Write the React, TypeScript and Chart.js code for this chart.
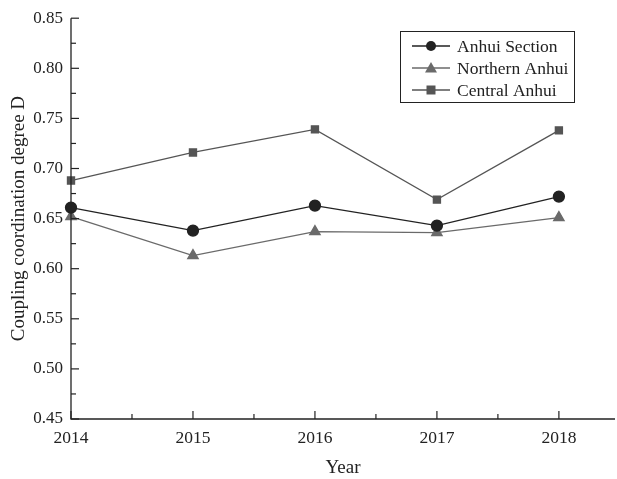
import React, { useEffect, useRef } from "react";
import { Chart, registerables } from "chart.js";

Chart.register(...registerables);

const years = [2014, 2015, 2016, 2017, 2018];
const anhuiSection = [0.661, 0.638, 0.663, 0.643, 0.672];
const northernAnhui = [0.652, 0.613, 0.637, 0.636, 0.651];
const centralAnhui = [0.688, 0.716, 0.739, 0.669, 0.738];
const seriesNames = ["Anhui Section", "Northern Anhui", "Central Anhui"];
const xTickValues = [2014, 2014.5, 2015, 2015.5, 2016, 2016.5, 2017, 2017.5, 2018];
const xTitle = "Year";
const yTitle = "Coupling coordination degree D";

const FONT = "'Liberation Serif', 'Times New Roman', serif";

const inwardTicks = {
  id: "inwardTicks",
  afterDraw(chart: any) {
    const ctx = chart.ctx;
    const { left, right, top, bottom } = chart.chartArea;
    ctx.save();
    ctx.strokeStyle = "#222";
    ctx.lineWidth = 1.3;
    ctx.beginPath();
    ctx.moveTo(left, top);
    ctx.lineTo(left, bottom);
    ctx.lineTo(right, bottom);
    ctx.stroke();
    ctx.lineWidth = 1.2;
    const xs = chart.scales.x;
    xs.ticks.forEach((t: any) => {
      const px = xs.getPixelForValue(t.value);
      const major = Math.abs(t.value - Math.round(t.value)) < 1e-6;
      const len = major ? 8 : 5;
      ctx.beginPath();
      ctx.moveTo(px, bottom);
      ctx.lineTo(px, bottom - len);
      ctx.stroke();
    });
    const ys = chart.scales.y;
    ys.ticks.forEach((t: any) => {
      const py = ys.getPixelForValue(t.value);
      const r = Math.round(t.value / 0.05) * 0.05;
      const major = Math.abs(t.value - r) < 1e-6;
      const len = major ? 8 : 5;
      ctx.beginPath();
      ctx.moveTo(left, py);
      ctx.lineTo(left + len, py);
      ctx.stroke();
    });
    ctx.restore();
  },
};

const boxLegend = {
  id: "boxLegend",
  afterDraw(chart: any) {
    const ctx = chart.ctx;
    const bx = 400, by = 31, bw = 174, bh = 71;
    ctx.save();
    ctx.fillStyle = "#fff";
    ctx.fillRect(bx, by, bw, bh);
    ctx.strokeStyle = "#222";
    ctx.lineWidth = 1;
    ctx.strokeRect(bx + 0.5, by + 0.5, bw, bh);
    chart.data.datasets.forEach((ds: any, i: number) => {
      const y = by + 15 + i * 22;
      ctx.strokeStyle = ds.borderColor;
      ctx.lineWidth = 1.3;
      ctx.beginPath();
      ctx.moveTo(bx + 12, y);
      ctx.lineTo(bx + 50, y);
      ctx.stroke();
      ctx.fillStyle = ds.pointBackgroundColor;
      const cx = bx + 31;
      const s = ds.pointStyle;
      ctx.beginPath();
      if (s === "circle") {
        ctx.arc(cx, y, 5, 0, Math.PI * 2);
      } else if (s === "triangle") {
        ctx.moveTo(cx, y - 6);
        ctx.lineTo(cx + 6, y + 4.5);
        ctx.lineTo(cx - 6, y + 4.5);
        ctx.closePath();
      } else {
        ctx.rect(cx - 4.5, y - 4.5, 9, 9);
      }
      ctx.fill();
      ctx.fillStyle = "#222";
      ctx.font = `17.5px ${FONT}`;
      ctx.textBaseline = "middle";
      ctx.textAlign = "left";
      ctx.fillText(ds.label, bx + 57, y + 1);
    });
    ctx.restore();
  },
};

export default function App() {
  const ref = useRef<HTMLCanvasElement>(null);
  useEffect(() => {
    document.body.style.margin = "0";
    const mk = (vals: number[]) => years.map((x, i) => ({ x, y: vals[i] }));
    const chart = new Chart(ref.current!, {
      type: "line",
      data: {
        datasets: [
          {
            label: seriesNames[0],
            data: mk(anhuiSection),
            borderColor: "#222",
            backgroundColor: "#222",
            pointBackgroundColor: "#222",
            pointBorderColor: "#222",
            pointStyle: "circle",
            pointRadius: 5.5,
            borderWidth: 1.3,
            clip: false,
          },
          {
            label: seriesNames[1],
            data: mk(northernAnhui),
            borderColor: "#6a6a6a",
            backgroundColor: "#6a6a6a",
            pointBackgroundColor: "#6a6a6a",
            pointBorderColor: "#6a6a6a",
            pointStyle: "triangle",
            pointRadius: 6,
            borderWidth: 1.3,
            clip: false,
          },
          {
            label: seriesNames[2],
            data: mk(centralAnhui),
            borderColor: "#555",
            backgroundColor: "#555",
            pointBackgroundColor: "#555",
            pointBorderColor: "#555",
            pointStyle: "rect",
            pointRadius: 5,
            borderWidth: 1.3,
            clip: false,
          },
        ],
      },
      options: {
        animation: false,
        responsive: false,
        devicePixelRatio: 1,
        layout: { autoPadding: false, padding: { left: 0, right: 2, top: 17, bottom: 0 } },
        plugins: { legend: { display: false }, tooltip: { enabled: false } },
        scales: {
          x: {
            type: "linear",
            min: 2014,
            max: 2018.46,
            grid: { display: false, drawTicks: false },
            border: { display: false },
            afterBuildTicks: (s: any) => {
              s.ticks = xTickValues.map((v) => ({ value: v }));
            },
            ticks: {
              autoSkip: false,
              maxRotation: 0,
              padding: 9,
              color: "#222",
              font: { family: FONT, size: 17.5 },
              callback: (v: any) =>
                Math.abs(v - Math.round(v)) < 1e-6 ? String(Math.round(v)) : "",
            },
            title: {
              display: true,
              text: xTitle,
              color: "#222",
              font: { family: FONT, size: 19 },
              padding: { top: 8, bottom: 0 },
            },
            afterFit: (s: any) => {
              s.height = 60;
            },
          },
          y: {
            min: 0.45,
            max: 0.85,
            grid: { display: false, drawTicks: false },
            border: { display: false },
            ticks: {
              stepSize: 0.025,
              autoSkip: false,
              padding: 8,
              color: "#222",
              font: { family: FONT, size: 17 },
              callback: (v: any) => {
                const r = Math.round(v / 0.05) * 0.05;
                return Math.abs(v - r) < 1e-6 ? r.toFixed(2) : "";
              },
            },
            title: {
              display: true,
              text: yTitle,
              color: "#222",
              font: { family: FONT, size: 19 },
              padding: { top: 8, bottom: 6 },
            },
            afterFit: (s: any) => {
              s.width = 71;
            },
          },
        },
      },
      plugins: [inwardTicks, boxLegend],
    });
    return () => chart.destroy();
  }, []);
  return <canvas ref={ref} width={617} height={479} style={{ display: "block" }} />;
}
